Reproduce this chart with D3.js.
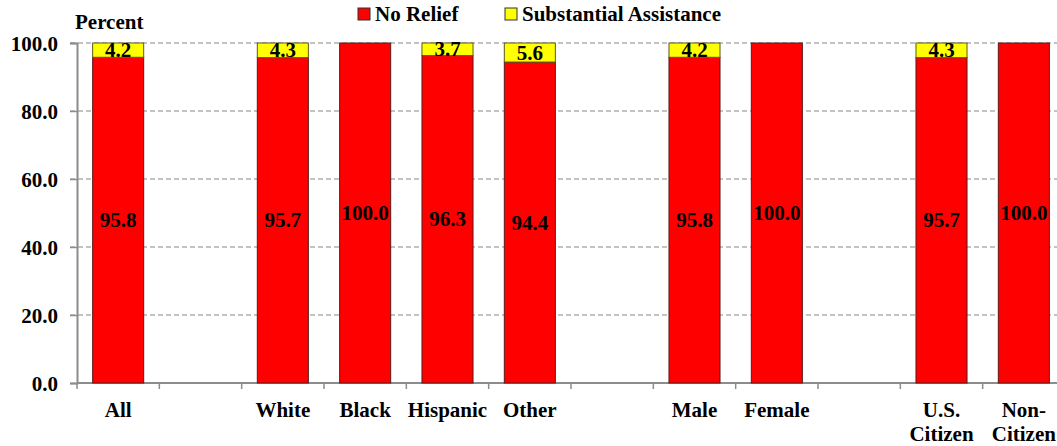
<!DOCTYPE html>
<html><head><meta charset="utf-8">
<script src="https://cdn.jsdelivr.net/npm/d3@7"></script>
<style>
body{margin:0;background:#fff;}
svg text{font-family:"Liberation Serif","DejaVu Serif",serif !important;font-weight:bold;fill:#000;}
</style></head><body>
<svg id="c" width="1057" height="446"></svg>
<script>
const slots = ["All","g1","White","Black","Hispanic","Other","g2","Male","Female","g3","U.S. Citizen","Non- Citizen"];
const categories = ["All","White","Black","Hispanic","Other","Male","Female","U.S. Citizen","Non- Citizen"];
const labelLines = {"U.S. Citizen":["U.S.","Citizen"],"Non- Citizen":["Non-","Citizen"]};
const noRelief = [95.8,95.7,100.0,96.3,94.4,95.8,100.0,95.7,100.0];
const substantial = [4.2,4.3,0,3.7,5.6,4.2,0,4.3,0];
const yTicks = [0,20,40,60,80,100];
const seriesNames = ["No Relief","Substantial Assistance"];
const colors = ["#ff0000","#ffff00"];
const FS = 21;

const svg = d3.select("#c");
const x = d3.scaleBand().domain(slots).range([77,1065]).paddingInner(0.38).paddingOuter(0.19);
const xb = d3.scaleBand().domain(slots).range([77,1065]);
const y = d3.scaleLinear().domain([0,100]).range([383,43]);

// gridlines
svg.append("g").selectAll("line").data(yTicks.filter(d=>d>0)).join("line")
  .attr("x1",70).attr("x2",1057).attr("y1",d=>y(d)).attr("y2",d=>y(d))
  .attr("stroke","#b0b0b0").attr("stroke-width",1.3).attr("stroke-dasharray","5,3");

// y axis
const ya = svg.append("g").attr("transform","translate(77,0)")
  .call(d3.axisLeft(y).tickValues(yTicks).tickFormat(d3.format(".1f")).tickSize(7).tickPadding(12));
ya.attr("font-family",null).attr("font-size",null);
ya.select(".domain").attr("stroke","#8c8c8c").attr("stroke-width",2);
ya.selectAll(".tick line").attr("stroke","#8c8c8c").attr("stroke-width",1.5);
ya.selectAll(".tick text").attr("font-size",FS).attr("dy","0.35em");

// x axis line & ticks at slot boundaries
svg.append("line").attr("x1",77).attr("x2",1065).attr("y1",383).attr("y2",383).attr("stroke","#8c8c8c").attr("stroke-width",2);
svg.append("g").selectAll("line").data(slots).join("line")
  .attr("x1",d=>xb(d)).attr("x2",d=>xb(d)).attr("y1",383).attr("y2",389)
  .attr("stroke","#8c8c8c").attr("stroke-width",1.5);

// bars
const data = categories.map((c,i)=>({c, a:noRelief[i], b:substantial[i]}));
const g = svg.append("g");
g.selectAll("rect.nr").data(data).join("rect").attr("class","nr")
  .attr("x",d=>x(d.c)).attr("width",x.bandwidth())
  .attr("y",d=>y(d.a)).attr("height",d=>y(0)-y(d.a))
  .attr("fill",colors[0]).attr("stroke","#5a1a1a").attr("stroke-width",1);
g.selectAll("rect.sa").data(data.filter(d=>d.b>0)).join("rect").attr("class","sa")
  .attr("x",d=>x(d.c)).attr("width",x.bandwidth())
  .attr("y",d=>y(d.a+d.b)).attr("height",d=>y(d.a)-y(d.a+d.b))
  .attr("fill",colors[1]).attr("stroke","#5a5a1a").attr("stroke-width",1);

// value labels
g.selectAll("text.nr").data(data).join("text").attr("class","nr")
  .attr("x",d=>x(d.c)+x.bandwidth()/2).attr("y",d=>y(d.a/2)+7)
  .attr("text-anchor","middle").attr("font-size",FS).text(d=>d.a.toFixed(1));
g.selectAll("text.sa").data(data.filter(d=>d.b>0)).join("text").attr("class","sa")
  .attr("x",d=>x(d.c)+x.bandwidth()/2).attr("y",d=>y(d.a+d.b/2)+7)
  .attr("text-anchor","middle").attr("font-size",FS).text(d=>d.b.toFixed(1));

// x labels
svg.append("g").selectAll("text").data(categories).join("text")
  .attr("x",d=>x(d)+x.bandwidth()/2).attr("y",417).attr("text-anchor","middle").attr("font-size",FS)
  .each(function(d){
    const lines = labelLines[d]||[d];
    d3.select(this).selectAll("tspan").data(lines).join("tspan")
      .attr("x",x(d)+x.bandwidth()/2).attr("dy",(l,i)=>i?24:0).text(l=>l);
  });

// Percent label
svg.append("text").attr("x",75).attr("y",29).attr("font-size",FS).text("Percent");

// legend
const leg = svg.append("g");
const lx = [358,505];
seriesNames.forEach((s,i)=>{
  leg.append("rect").attr("x",lx[i]).attr("y",8).attr("width",12).attr("height",12)
    .attr("fill",colors[i]).attr("stroke","#333").attr("stroke-width",1);
  leg.append("text").attr("x",lx[i]+17).attr("y",21).attr("font-size",FS).text(s);
});
</script></body></html>
